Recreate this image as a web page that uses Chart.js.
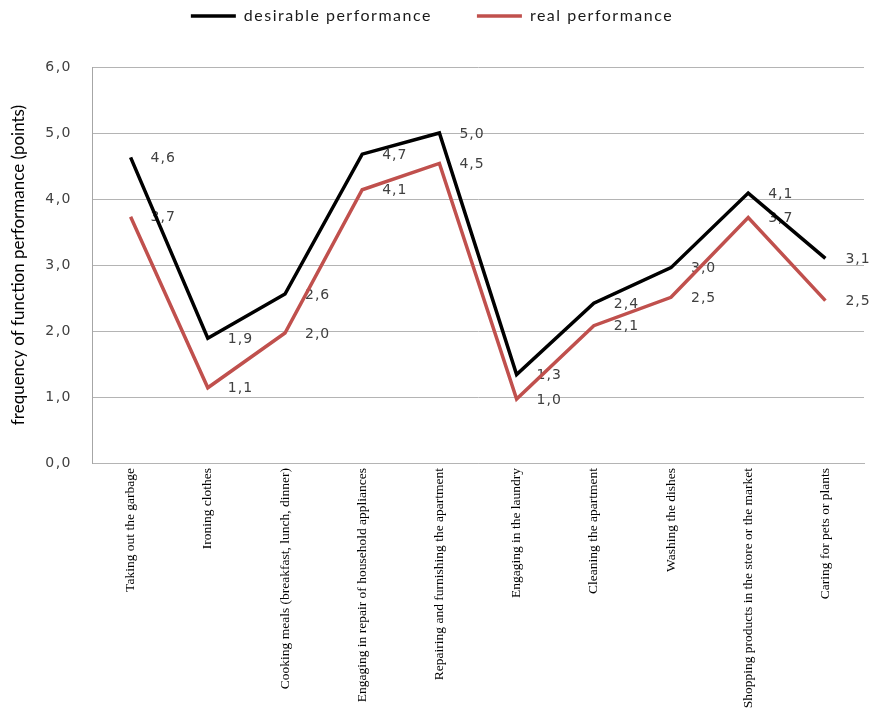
<!DOCTYPE html>
<html>
<head>
<meta charset="utf-8">
<script src="https://cdn.jsdelivr.net/npm/chart.js@4/dist/chart.umd.min.js"></script>
<style>
  html, body { margin: 0; padding: 0; background: #ffffff; }
  #wrap { width: 870px; height: 708px; position: relative; }
</style>
</head>
<body>
<div id="wrap"><canvas id="c"></canvas></div>
<script>
// ---- data ----
const categories = [
  'Taking out the garbage',
  'Ironing clothes',
  'Cooking meals (breakfast, lunch, dinner)',
  'Engaging in repair of household appliances',
  'Repairing and furnishing the apartment',
  'Engaging in the laundry',
  'Cleaning the apartment',
  'Washing the dishes',
  'Shopping products in the store or the market',
  'Caring for pets or plants'
];
const seriesNames = ['desirable performance', 'real performance'];
const desirable = [4.63, 1.89, 2.56, 4.68, 5.00, 1.34, 2.42, 2.96, 4.09, 3.10];
const real      = [3.73, 1.14, 1.97, 4.14, 4.54, 0.97, 2.08, 2.51, 3.72, 2.46];
const yTicks = [0, 1, 2, 3, 4, 5, 6];
const yTitle = 'frequency of function performance (points)';

const fmt = v => Number(v).toFixed(1).replace('.', ',');

// wrap a draw method so its text is drawn with letter spacing
function wrapSpacing(obj, fn, sp) {
  if (!obj || obj['_sp_' + fn]) return;
  const orig = obj[fn];
  obj[fn] = function (...a) {
    const c = this.ctx;
    c.save();
    c.letterSpacing = sp;
    const r = orig.apply(this, a);
    c.restore();
    return r;
  };
  obj['_sp_' + fn] = true;
}

const spacing = {
  id: 'spacing',
  beforeLayout(chart) { chart.ctx.letterSpacing = '1.5px'; },
  afterLayout(chart) {
    chart.ctx.letterSpacing = '0px';
    wrapSpacing(chart.legend, 'draw', '1.5px');
    wrapSpacing(chart.scales.y, 'drawLabels', '1.5px');
  }
};

// empty layout box placed between the legend and the plot area
const topSpacer = {
  id: 'topSpacer',
  start(chart) {
    const box = {
      position: 'top', weight: 500, fullSize: true, options: {},
      left: 0, top: 0, right: 0, bottom: 0, width: 0, height: 0,
      isHorizontal() { return true; },
      update(maxWidth) { this.width = maxWidth; this.height = 33; },
      draw() {}
    };
    Chart.layouts.addBox(chart, box);
  }
};

const valueLabels = {
  id: 'valueLabels',
  beforeDatasetsDraw(chart) {
    const ctx = chart.ctx;
    ctx.save();
    ctx.font = '14px "DejaVu Sans"';
    ctx.fillStyle = '#404040';
    ctx.textAlign = 'left';
    ctx.textBaseline = 'middle';
    ctx.letterSpacing = '1px';
    chart.data.datasets.forEach((ds, i) => {
      const meta = chart.getDatasetMeta(i);
      meta.data.forEach((pt, j) => {
        ctx.fillText(fmt(ds.data[j]), pt.x + 20, pt.y + 1);
      });
    });
    ctx.restore();
  }
};

new Chart(document.getElementById('c'), {
  type: 'line',
  data: {
    labels: categories,
    datasets: [
      {
        label: seriesNames[0],
        data: desirable,
        borderColor: '#000000',
        backgroundColor: '#000000',
        borderWidth: 3.5,
        pointRadius: 0,
        tension: 0,
        borderJoinStyle: 'miter'
      },
      {
        label: seriesNames[1],
        data: real,
        borderColor: '#c0504d',
        backgroundColor: '#c0504d',
        borderWidth: 3.5,
        pointRadius: 0,
        tension: 0,
        borderJoinStyle: 'miter'
      }
    ]
  },
  options: {
    responsive: true,
    maintainAspectRatio: false,
    animation: false,
    layout: { padding: { top: -37, left: 0, right: 6, bottom: 0 } },
    plugins: {
      legend: {
        position: 'top',
        labels: {
          usePointStyle: true,
          pointStyle: 'line',
          pointStyleWidth: 45,
          boxWidth: 45,
          padding: 45,
          color: '#1a1a1a',
          font: { family: 'Lato', size: 16 }
        }
      },
      tooltip: { enabled: false }
    },
    scales: {
      x: {
        type: 'category',
        offset: true,
        grid: { display: false, drawTicks: false },
        border: { display: true, color: '#b4b4b4', width: 1 },
        ticks: {
          autoSkip: false,
          minRotation: 90,
          maxRotation: 90,
          padding: 5,
          color: '#000000',
          font: { family: '"Liberation Serif"', size: 13.5 }
        },
        afterFit(s) { s.height = 245; s.paddingLeft = 0; s.paddingRight = 0; }
      },
      y: {
        min: 0,
        max: 6,
        afterBuildTicks(s) { s.ticks = yTicks.map(v => ({ value: v })); },
        ticks: {
          callback: v => fmt(v),
          padding: 20,
          color: '#404040',
          font: { family: '"DejaVu Sans"', size: 14 }
        },
        grid: { color: '#b4b4b4', lineWidth: 1, drawTicks: false },
        border: { display: true, color: '#a6a6a6', width: 1 },
        title: {
          display: true,
          text: yTitle,
          color: '#000000',
          font: { family: 'Lato', size: 17 },
          padding: { top: 8, bottom: 0 }
        },
        afterFit(s) { s.width = 92; }
      }
    }
  },
  plugins: [spacing, topSpacer, valueLabels]
});
</script>
</body>
</html>
